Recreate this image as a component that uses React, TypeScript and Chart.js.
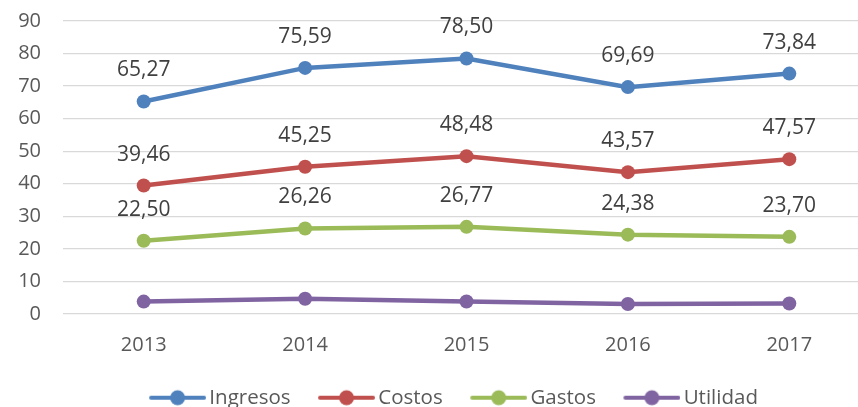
import React, { useEffect, useRef } from "react";
import { Chart, registerables } from "chart.js";

Chart.register(...registerables);

const years = ["2013", "2014", "2015", "2016", "2017"];
const ingresos = [65.27, 75.59, 78.5, 69.69, 73.84];
const costos = [39.46, 45.25, 48.48, 43.57, 47.57];
const gastos = [22.5, 26.26, 26.77, 24.38, 23.7];
const utilidad = [3.81, 4.68, 3.82, 3.05, 3.22];

const seriesNames = ["Ingresos", "Costos", "Gastos", "Utilidad"];
const seriesColors = ["#4F81BD", "#C0504D", "#9BBB59", "#8064A2"];
const showValueLabels = [true, true, true, false];

const FONT = "'Open Sans', sans-serif";

function legendMarker(color: string): HTMLCanvasElement {
  const c = document.createElement("canvas");
  c.width = 63;
  c.height = 18;
  const ctx = c.getContext("2d")!;
  ctx.strokeStyle = color;
  ctx.lineWidth = 4;
  ctx.lineCap = "round";
  ctx.beginPath();
  ctx.moveTo(8, 9);
  ctx.lineTo(61, 9);
  ctx.stroke();
  ctx.fillStyle = color;
  ctx.beginPath();
  ctx.arc(34.5, 9, 7.5, 0, Math.PI * 2);
  ctx.fill();
  return c;
}

const valueLabelPlugin = {
  id: "valueLabels",
  afterDatasetsDraw(chart: any) {
    const ctx = chart.ctx;
    ctx.save();
    ctx.font = `21px ${FONT}`;
    ctx.fillStyle = "#404040";
    ctx.textAlign = "center";
    ctx.textBaseline = "middle";
    chart.data.datasets.forEach((ds: any, i: number) => {
      if (!showValueLabels[i]) return;
      const meta = chart.getDatasetMeta(i);
      meta.data.forEach((pt: any, j: number) => {
        const v = ds.data[j] as number;
        ctx.fillText(v.toFixed(2).replace(".", ","), pt.x, pt.y - 31);
      });
    });
    ctx.restore();
  },
};

const legendShiftPlugin = {
  id: "legendShift",
  afterLayout(chart: any) {
    if (chart.legend) chart.legend.left += 20;
  },
};

export default function App() {
  const ref = useRef<HTMLCanvasElement>(null);
  useEffect(() => {
    document.body.style.overflow = "hidden";
    const values = [ingresos, costos, gastos, utilidad];
    const markers = seriesColors.map(legendMarker);
    const chart = new Chart(ref.current!, {
      type: "line",
      data: {
        labels: years,
        datasets: values.map((d, i) => ({
          label: seriesNames[i],
          data: d,
          borderColor: seriesColors[i],
          backgroundColor: seriesColors[i],
          borderWidth: 4.5,
          pointRadius: 7,
          pointBackgroundColor: seriesColors[i],
          pointBorderWidth: 0,
          tension: 0,
        })),
      },
      options: {
        responsive: false,
        animation: false,
        layout: { autoPadding: false, padding: { left: 18, right: 0, top: 21, bottom: 0 } },
        scales: {
          x: {
            offset: true,
            grid: { display: false, drawTicks: false },
            border: { display: false },
            ticks: { color: "#595959", font: { family: FONT, size: 20 }, padding: 19 },
            afterFit: (s: any) => {
              s.height = 45;
            },
          },
          y: {
            min: 0,
            max: 90,
            ticks: { stepSize: 10, color: "#595959", font: { family: FONT, size: 20 }, padding: 22 },
            grid: { color: "#D9D9D9", lineWidth: 1.3, drawTicks: false },
            border: { display: false },
            afterFit: (s: any) => {
              s.width = 45;
              s.paddingTop = 0;
              s.paddingBottom = 0;
            },
          },
        },
        plugins: {
          tooltip: { enabled: false },
          legend: {
            position: "bottom",
            labels: {
              usePointStyle: true,
              pointStyleWidth: 49,
              padding: 28.5,
              color: "#595959",
              font: { family: FONT, size: 20.5 },
              generateLabels: (ch: any) =>
                ch.data.datasets.map((ds: any, i: number) => ({
                  text: ds.label,
                  fillStyle: seriesColors[i],
                  strokeStyle: seriesColors[i],
                  lineWidth: 0,
                  pointStyle: markers[i],
                  fontColor: "#595959",
                  hidden: false,
                  datasetIndex: i,
                })),
            },
          },
        },
      },
      plugins: [valueLabelPlugin, legendShiftPlugin],
    });
    return () => chart.destroy();
  }, []);
  return (
    <div style={{ position: "fixed", left: 0, top: 0, width: 870, height: 418 }}>
      <canvas ref={ref} width={870} height={418} style={{ display: "block" }} />
    </div>
  );
}
